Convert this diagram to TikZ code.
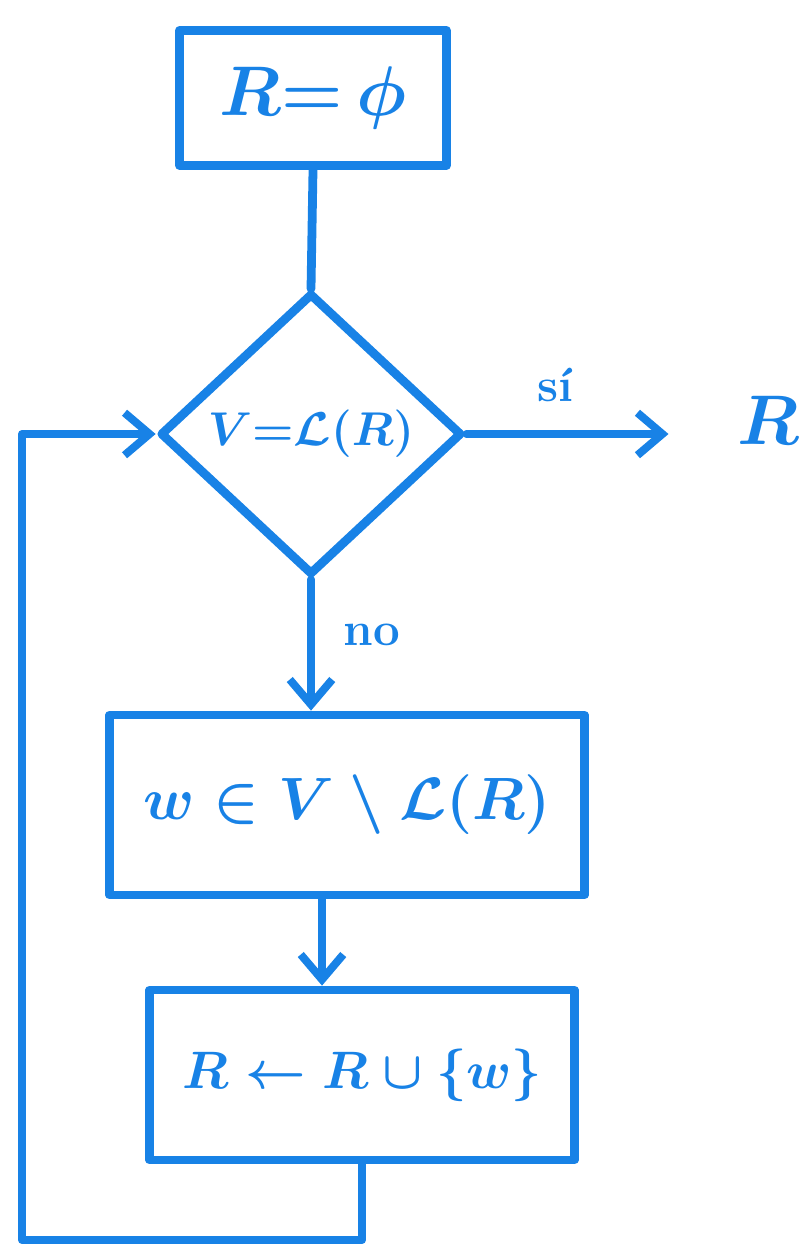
\RequirePackage{fix-cm}
\documentclass[tikz,border=0pt]{standalone}
\usepackage{fontspec}
\usetikzlibrary{shapes.geometric,arrows.meta}
\definecolor{marker}{RGB}{24,130,230}

\begin{document}
\begin{tikzpicture}[x=0.02cm,y=-0.02cm,
  every node/.style={text=marker},
  ink/.style={draw=marker,line width=5pt,line cap=round,line join=round},
  procbox/.style={ink,shape=rectangle,inner sep=0pt},
  decision/.style={ink,shape=diamond,inner sep=0pt},
  hugetext/.style={font=\fontsize{40}{44}\selectfont\boldmath},
  largetext/.style={font=\fontsize{34}{38}\selectfont\boldmath},
  midtext/.style={font=\fontsize{30}{34}\selectfont\boldmath},
  smalltext/.style={font=\fontsize{27}{30}\selectfont\bfseries\boldmath},
  flow/.style={draw=marker,line width=4.5pt,line cap=round,line join=round,
    -{Straight Barb[length=0.5cm,width=0.85cm]}}]

  % Sheet
  \path[use as bounding box] (0,0) rectangle (804,1260);

  % Boxes
  \node[procbox,hugetext,minimum width=5.34cm,minimum height=2.7cm] (init) at (313,98) {$R{=}\,\phi$};
  \node[decision,smalltext,minimum width=6.04cm,minimum height=5.64cm] (cond) at (311,434) {$V{=}\mathcal{L}(R)$};
  \node[procbox,largetext,minimum width=9.5cm,minimum height=3.6cm] (work) at (347,805) {$w\in V\setminus\mathcal{L}(R)$};
  \node[procbox,midtext,minimum width=8.5cm,minimum height=3.4cm] (upd) at (362,1075) {$R\leftarrow R\cup\{w\}$};

  % Result and labels
  \node[hugetext] (res) at (768,420) {$R$};
  \node[smalltext] (yes) at (555,385) {s\'{\i}};
  \node[smalltext] (no) at (372,635) {no};

  % Connectors
  \coordinate (corner) at (22,1240);
  \draw[ink] (init.south) -- (cond.north);
  \draw[flow,shorten >=1.25cm] (cond.east) -- (cond.east -| res.west);
  \draw[flow] (cond.south) -- (cond.south |- work.north);
  \draw[flow] ([xshift=-0.5cm]work.south) -- ([xshift=-0.5cm]work.south |- upd.north);
  \draw[flow] (upd.south) |- (corner) |- (cond.west);
\end{tikzpicture}
\end{document}
